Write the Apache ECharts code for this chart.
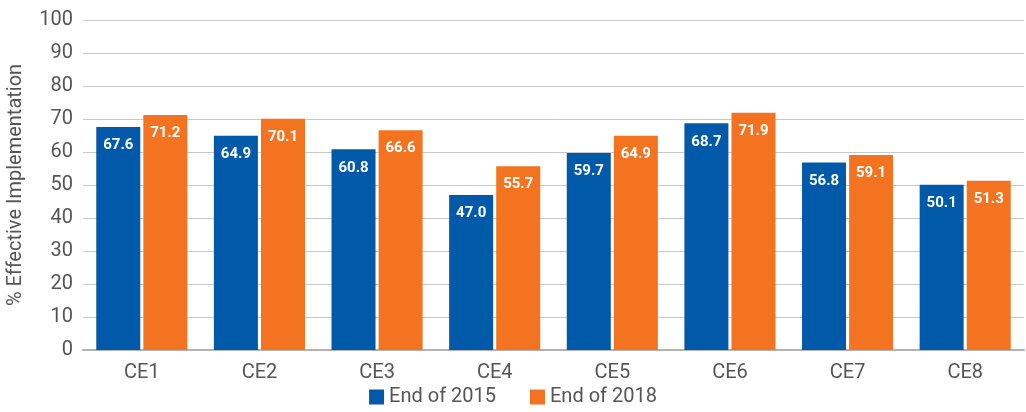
<!DOCTYPE html>
<html>
<head>
<meta charset="utf-8">
<script src="https://cdn.jsdelivr.net/npm/echarts@6/dist/echarts.min.js"></script>
<style>
	html, body {
		margin: 0;
		padding: 0;
		background: #fff;
	}

	#chart {
		width: 1026px;
		height: 412px;
	}
</style>
</head>
<body>
<div id="chart"></div>
<script>
	// categories
	var categories = ['CE1', 'CE2', 'CE3', 'CE4', 'CE5', 'CE6', 'CE7', 'CE8'];
	// series values
	var end2015 = [67.6, 64.9, 60.8, 47.0, 59.7, 68.7, 56.8, 50.1];
	var end2018 = [71.2, 70.1, 66.6, 55.7, 64.9, 71.9, 59.1, 51.3];
	var seriesNames = ['End of 2015', 'End of 2018'];

	var font = 'Roboto, "DejaVu Sans", sans-serif';

	var labelStyle = {
		show: true,
		position: 'insideTop',
		distance: 11,
		color: '#fff',
		fontWeight: 'bold',
		fontSize: 15,
		fontFamily: font,
		formatter: function (p) {
			return p.value.toFixed(1);
		}
	};

	var chart = echarts.init(document.getElementById('chart'));
	var option = {
		backgroundColor: '#fff',
		animation: false,
		textStyle: { fontFamily: font },
		grid: {
			left: 83,
			right: 2,
			top: 20,
			bottom: 62,
			outerBoundsMode: 'none',
			containLabel: false
		},
		legend: {
			bottom: 0,
			left: 'center',
			itemWidth: 15,
			itemHeight: 15,
			itemGap: 34,
			icon: 'rect',
			textStyle: { color: '#555', fontSize: 20, fontFamily: font },
			data: seriesNames
		},
		xAxis: {
			type: 'category',
			data: categories,
			axisTick: { show: false },
			axisLine: { lineStyle: { color: '#b3b3b3', width: 2 } },
			axisLabel: { color: '#555', fontSize: 20, margin: 13, fontFamily: font }
		},
		yAxis: {
			type: 'value',
			min: 0,
			max: 100,
			interval: 10,
			name: '% Effective Implementation',
			nameLocation: 'middle',
			nameGap: 57,
			nameTextStyle: { color: '#555', fontSize: 20, fontFamily: font },
			axisLine: { show: false },
			axisTick: { show: false },
			axisLabel: { color: '#555', fontSize: 20, margin: 10, fontFamily: font },
			splitLine: { lineStyle: { color: '#c8c8c8', width: 1 } }
		},
		series: [
			{
				name: seriesNames[0],
				type: 'bar',
				data: end2015,
				barWidth: 44,
				barGap: '7%',
				itemStyle: { color: '#005aa9' },
				label: labelStyle
			},
			{
				name: seriesNames[1],
				type: 'bar',
				data: end2018,
				barWidth: 44,
				itemStyle: { color: '#f37321' },
				label: labelStyle
			}
		]
	};
	chart.setOption(option);
</script>
</body>
</html>
